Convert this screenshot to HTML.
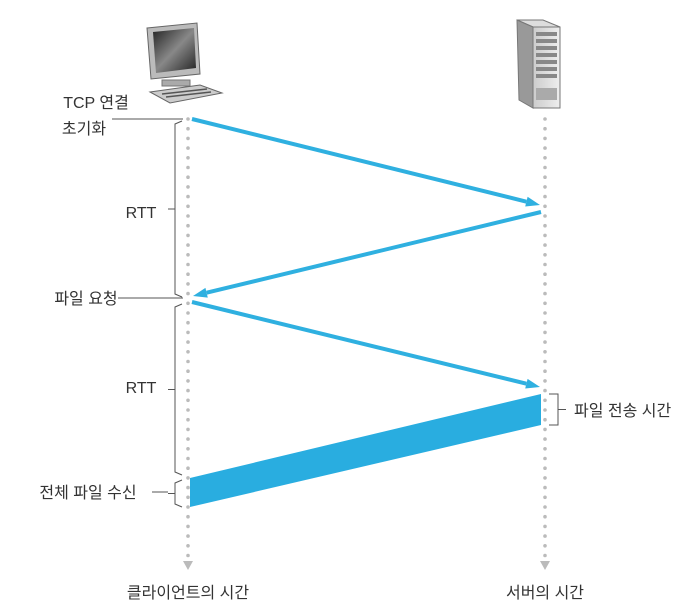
<!DOCTYPE html>
<html><head><meta charset="utf-8"><style>
html,body{margin:0;padding:0;background:#fff;}
svg{display:block;}
text{font-family:"Liberation Sans","Noto Sans CJK KR",sans-serif;font-size:16px;fill:#333;}
</style></head><body>
<svg id="chart" width="697" height="608" viewBox="0 0 697 608">
<defs>
<linearGradient id="scr" x1="0" y1="0" x2="1" y2="1"><stop offset="0" stop-color="#222"/><stop offset="0.5" stop-color="#888"/><stop offset="1" stop-color="#222"/></linearGradient>
<linearGradient id="srv" x1="0" y1="0" x2="1" y2="0"><stop offset="0" stop-color="#ccc"/><stop offset="1" stop-color="#eee"/></linearGradient>
</defs>
<g>
<polygon points="147,28 197,23 200,74 151,79" fill="#bbb" stroke="#666"/>
<polygon points="153,32 194,28 196,68 156,73" fill="url(#scr)"/>
<rect x="162" y="80" width="28" height="6" fill="#aaa" stroke="#777"/>
<polygon points="150,92 200,85 222,93 170,103" fill="#ccc" stroke="#666"/>
<line x1="162" y1="94" x2="207" y2="89" stroke="#555" stroke-width="1.5"/>
<line x1="166" y1="97" x2="211" y2="92" stroke="#555" stroke-width="1.5"/>
</g>
<g>
<polygon points="517,20 543,20 560,27 533,27" fill="#ddd" stroke="#777"/>
<polygon points="517,20 533,27 533,108 519,100" fill="#999" stroke="#777"/>
<rect x="533" y="27" width="27" height="81" fill="url(#srv)" stroke="#777"/>
<g id="srv-slots"></g>
<rect x="536" y="88" width="21" height="12" fill="#aaa"/>
</g>
<g id="timelines"></g>
<g id="msgs"></g>
<g id="braces" fill="none" stroke="#555" stroke-width="1"></g>
<text x="96" y="108" text-anchor="middle">TCP 연결</text>
<text x="84" y="134" text-anchor="middle">초기화</text>
<text x="86" y="304" text-anchor="middle">파일 요청</text>
<text x="141" y="218" text-anchor="middle">RTT</text>
<text x="141" y="393" text-anchor="middle">RTT</text>
<text x="88" y="498" text-anchor="middle">전체 파일 수신</text>
<text x="574" y="416">파일 전송 시간</text>
<text x="188" y="598" text-anchor="middle">클라이언트의 시간</text>
<text x="545" y="598" text-anchor="middle">서버의 시간</text>
</svg>
<script>
const NS='http://www.w3.org/2000/svg';
// data: event times (y positions along timeline as time units)
const messageStarts=[119,212,302];
const messageEnds=[205,296,387];
const messageFrom=['client','server','client'];
const fileStart=[394,425];   // server send begin/end
const fileEnd=[478,507];     // client receive begin/end
const X={client:188,server:545};
const t=v=>v;
function mk(tag,attrs,parent){const e=document.createElementNS(NS,tag);for(const k in attrs)e.setAttribute(k,attrs[k]);parent.appendChild(e);return e;}
const slots=document.getElementById('srv-slots');
for(let i=0;i<7;i++){const r=mk('rect',{x:536,y:32+i*7,width:21,height:4,fill:'#888'},slots);

}
const tl=document.getElementById('timelines');
['client','server'].forEach(k=>{
 for(let y=119;y<=556;y+=9.7){const c=mk('circle',{cx:X[k],cy:y,r:1.8,fill:'#bbb'},tl);
 
 }
 const a=mk('polygon',{points:`${X[k]-5},561 ${X[k]+5},561 ${X[k]},570`,fill:'#bbb'},tl);
 
 
});
const mg=document.getElementById('msgs');
messageStarts.forEach((s,i)=>{
 const f=messageFrom[i],to=f==='client'?'server':'client';
 const dir=f==='client'?1:-1;
 const x1=X[f]+4*dir,x2=X[to]-5*dir,y1=t(s),y2=t(messageEnds[i]);
 const ang=Math.atan2(y2-y1,x2-x1),L=14,W=5;
 const bx=x2-L*Math.cos(ang),by=y2-L*Math.sin(ang);
 const g=mk('g',{},mg);
 
 
 mk('line',{x1:x1,y1:y1,x2:bx,y2:by,stroke:'#2fb0e0','stroke-width':4},g);
 mk('polygon',{points:`${x2},${y2} ${bx-W*Math.sin(ang)},${by+W*Math.cos(ang)} ${bx+W*Math.sin(ang)},${by-W*Math.cos(ang)}`,fill:'#2fb0e0'},g);
});
const band=mk('polygon',{points:`${X.server-4},${t(fileStart[0])} ${X.server-4},${t(fileStart[1])} ${X.client+2},${t(fileEnd[1])} ${X.client+2},${t(fileEnd[0])}`,fill:'#29ade0'},mg);


const bg=document.getElementById('braces');
function brace(y1,y2,x,name){const m=(y1+y2)/2;
 const p=mk('path',{d:`M${x+10},${y1} L${x+3},${y1+3} L${x+3},${y2-3} L${x+10},${y2} M${x+3},${m} L${x-4},${m}`},bg);
 
 }
brace(t(messageStarts[0])+2,t(messageEnds[1])+1,172,'rtt-brace-1');
brace(t(messageStarts[2])+2,t(fileEnd[0])-3,172,'rtt-brace-2');
brace(t(fileEnd[0])+2,t(fileEnd[1]),172,'receive-brace');
const rb=mk('path',{d:`M549,${t(fileStart[0])} L558,${t(fileStart[0])} L558,${t(fileStart[1])} L549,${t(fileStart[1])} M558,${(t(fileStart[0])+t(fileStart[1]))/2} L566,${(t(fileStart[0])+t(fileStart[1]))/2}`},bg);


const l1=mk('line',{x1:112,y1:119,x2:183,y2:119},bg);


const l2=mk('line',{x1:118,y1:298,x2:183,y2:298},bg);


const l3=mk('line',{x1:152,y1:492,x2:168,y2:492},bg);


</script>
</body></html>
